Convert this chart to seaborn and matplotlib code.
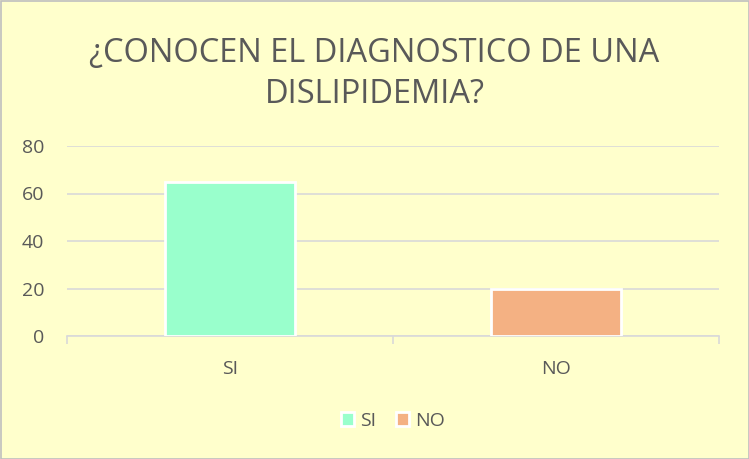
import matplotlib
matplotlib.use("Agg")
import matplotlib.pyplot as plt
import seaborn as sns
import pandas as pd
from matplotlib.patches import Rectangle

categories = ["SI", "NO"]
values = [65, 20]
colors = ["#99FFCC", "#F4B183"]
yticks = [0, 20, 40, 60, 80]
title = "¿CONOCEN EL DIAGNOSTICO DE UNA\nDISLIPIDEMIA?"

sns.set_theme(style="white")
plt.rcParams['font.family'] = ['Open Sans', 'DejaVu Sans']

bg = "#FFFFCC"
txt = "#595959"
df = pd.DataFrame({"cat": categories, "val": values})

fig = plt.figure(figsize=(7.49, 4.59), dpi=100, facecolor=bg)
ax = fig.add_axes([67/749, (459-336)/459, (719-67)/749, (336-146)/459])
ax.set_facecolor(bg)

sns.barplot(data=df, x="cat", y="val", hue="cat", palette=colors, order=categories,
            hue_order=categories, dodge=False, width=0.4, edgecolor="white",
            linewidth=2, ax=ax, legend=True, zorder=3, saturation=1)

ax.set_ylim(0, 80)
ax.set_xlim(-0.5, 1.5)
ax.set_yticks(yticks)
ax.set_yticklabels([str(v) for v in yticks], color=txt, fontsize=14)
ax.set_xticks([0, 1])
ax.set_xticklabels(categories, color=txt, fontsize=14)
ax.set_xticks([-0.5, 0.5, 1.5], minor=True)
ax.tick_params(axis="x", which="both", bottom=True)
ax.tick_params(axis="x", which="major", length=0, pad=17)
ax.tick_params(axis="x", which="minor", length=6, color="#D9D9D9", width=1.2, direction="out")
ax.tick_params(axis="y", length=0, pad=16.5)
ax.yaxis.grid(True, color="#D9D9D9", linewidth=1.2, zorder=0)
ax.set_axisbelow(True)
for s in ["top", "right", "left"]:
    ax.spines[s].set_visible(False)
ax.spines["bottom"].set_color("#D9D9D9")
ax.spines["bottom"].set_linewidth(1.2)
ax.set_xlabel("")
ax.set_ylabel("")

leg = ax.legend(loc="center", frameon=False,
                ncol=2, fontsize=14, handlelength=0.7, handleheight=0.7, handletextpad=0.3,
                columnspacing=1.0)
leg.set_bbox_to_anchor((0.5, -(421 - 336) / 190), transform=ax.transAxes)
for t in leg.get_texts():
    t.set_color(txt)
for h in leg.legend_handles:
    h.set_edgecolor("white")
    h.set_linewidth(2)

fig.text(0.5, 1 - 74/459, title, ha="center", va="center", fontsize=23.5, color=txt,
         linespacing=1.3)

fig.add_artist(Rectangle((0.5/749, 0.5/459), 1 - 1/749, 1 - 1/459, transform=fig.transFigure,
                         fill=False, edgecolor="#BFBFBF", linewidth=1.2))

fig.savefig("out.png", dpi=100, facecolor=bg)
